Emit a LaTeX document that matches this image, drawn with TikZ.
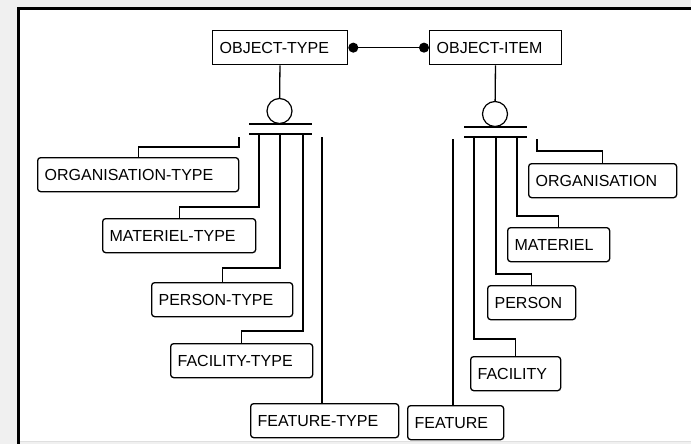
\documentclass[tikz,border=0pt]{standalone}
\usepackage{fontspec}
\setmainfont{Liberation Sans}
\usepackage{tikz}
\usetikzlibrary{positioning,calc,arrows.meta}

\begin{document}
\begin{tikzpicture}[
    x=1pt, y=-1pt,
    font=\fontsize{16}{19}\selectfont,
    entity/.style={rectangle, draw, line width=1.3pt, minimum height=34pt, inner xsep=7pt, inner ysep=0pt, align=left, anchor=north west},
    member/.style={entity, rounded corners=3pt},
    disc/.style={circle, draw, line width=1.2pt, minimum size=25pt, inner sep=0pt},
    link/.style={line width=1.3pt}
]
    % Frame
    \useasboundingbox (0,0) rectangle (691,444);
    \fill[gray!12] (0,0) rectangle (691,444);
    \fill[white] (18.5,8.5) rectangle (691,441);
    \draw[gray!25, line width=1pt] (18.5,441) -- (691,441);
    \draw[line width=3pt] (18.5,444) -- (18.5,8.5) -- (691,8.5);

    % Top entities
    \node[entity, text width=121pt] (otype) at (212,30) {OBJECT-TYPE};
    \node[entity, text width=118pt] (oitem) at (429,30) {OBJECT-ITEM};
    \draw[link, {Circle[length=10pt]}-{Circle[length=10pt]}] (otype) -- (oitem);

    % Left category
    \node[disc] (dleft) at (279.5,111) {};
    \draw[link] (otype) -- (dleft);
    \coordinate (lbar1) at (249,124);
    \coordinate (lbar2) at (249,134);
    \draw[link] (lbar1) -- ++(63,0);
    \draw[link] (lbar2) -- ++(63,0);

    \node[member, text width=187pt] (orgtype) at (37,157) {ORGANISATION-TYPE};
    \node[member, text width=139pt] (mattype) at (102,218) {MATERIEL-TYPE};
    \node[member, text width=127pt] (pertype) at (151,282) {PERSON-TYPE};
    \node[member, text width=128pt] (factype) at (170,343) {FACILITY-TYPE};
    \node[member, text width=134pt] (featype) at (250,403) {FEATURE-TYPE};

    \coordinate (l1) at (239,137);
    \coordinate (l2) at (259,134);
    \coordinate (l3) at (280,134);
    \coordinate (l4) at (303,134);
    \coordinate (l5) at (322,137);
    \draw[link] (l1) |- ([yshift=10pt]orgtype.north) -- (orgtype.north);
    \draw[link] (l2) |- ([yshift=11pt]mattype.north) -- (mattype.north);
    \draw[link] (l3) |- ([yshift=14pt]pertype.north) -- (pertype.north);
    \draw[link] (l4) |- ([yshift=12pt]factype.north) -- (factype.north);
    \draw[link] (l5) -- (l5 |- featype.north);

    % Right category
    \node[disc] (dright) at (495,114) {};
    \draw[link] (oitem) -- (dright);
    \coordinate (rbar1) at (464,127);
    \coordinate (rbar2) at (464,137);
    \draw[link] (rbar1) -- ++(63,0);
    \draw[link] (rbar2) -- ++(63,0);

    \node[member, text width=134pt] (org) at (528,163) {ORGANISATION};
    \node[member, text width=88pt] (mat) at (507,227) {MATERIEL};
    \node[member, text width=74pt] (per) at (487,285) {PERSON};
    \node[member, text width=76pt] (fac) at (470,356) {FACILITY};
    \node[member, text width=82pt] (fea) at (407,405) {FEATURE};

    \coordinate (r1) at (537,139);
    \coordinate (r2) at (517,137);
    \coordinate (r3) at (496,137);
    \coordinate (r4) at (474,137);
    \coordinate (r5) at (453,139);
    \draw[link] (r1) |- ([yshift=12pt]org.north) -- (org.north);
    \draw[link] (r2) |- ([yshift=11pt]mat.north) -- (mat.north);
    \draw[link] (r3) |- ([yshift=11pt]per.north) -- (per.north);
    \draw[link] (r4) |- ([yshift=17pt]fac.north) -- (fac.north);
    \draw[link] (r5) -- (r5 |- fea.north);
\end{tikzpicture}
\end{document}
